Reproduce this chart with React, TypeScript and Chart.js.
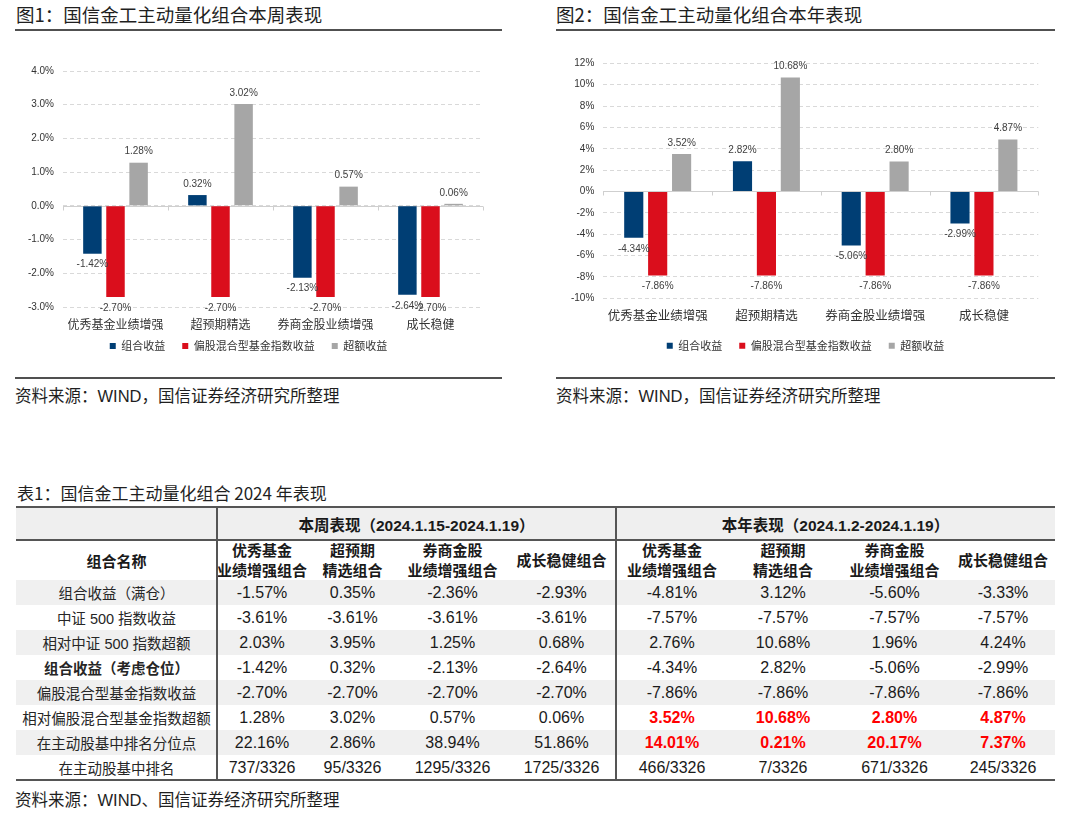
import React, { useEffect, useRef } from 'react';
import { Chart, registerables } from 'chart.js';

Chart.register(...registerables);

// ---------- data ----------
const categories = ['优秀基金业绩增强', '超预期精选', '券商金股业绩增强', '成长稳健'];
const seriesNames = ['组合收益', '偏股混合型基金指数收益', '超额收益'];
const seriesColors = ['#003E74', '#DA0E1C', '#A6A6A6'];

const weekPortfolio = [-1.42, 0.32, -2.13, -2.64];
const weekIndex = [-2.7, -2.7, -2.7, -2.7];
const weekExcess = [1.28, 3.02, 0.57, 0.06];

const yearPortfolio = [-4.34, 2.82, -5.06, -2.99];
const yearIndex = [-7.86, -7.86, -7.86, -7.86];
const yearExcess = [3.52, 10.68, 2.8, 4.87];

const weekAxis = { min: -3, max: 4, step: 1, decimals: 1 };
const yearAxis = { min: -10, max: 12, step: 2, decimals: 0 };

const tableRowLabels = [
  '组合收益（满仓）',
  '中证 500 指数收益',
  '相对中证 500 指数超额',
  '组合收益（考虑仓位）',
  '偏股混合型基金指数收益',
  '相对偏股混合型基金指数超额',
  '在主动股基中排名分位点',
  '在主动股基中排名',
];
const tableColHeads = [
  ['优秀基金', '业绩增强组合'],
  ['超预期', '精选组合'],
  ['券商金股', '业绩增强组合'],
  ['成长稳健组合'],
];
const weekTable = [
  ['-1.57%', '0.35%', '-2.36%', '-2.93%'],
  ['-3.61%', '-3.61%', '-3.61%', '-3.61%'],
  ['2.03%', '3.95%', '1.25%', '0.68%'],
  ['-1.42%', '0.32%', '-2.13%', '-2.64%'],
  ['-2.70%', '-2.70%', '-2.70%', '-2.70%'],
  ['1.28%', '3.02%', '0.57%', '0.06%'],
  ['22.16%', '2.86%', '38.94%', '51.86%'],
  ['737/3326', '95/3326', '1295/3326', '1725/3326'],
];
const yearTable = [
  ['-4.81%', '3.12%', '-5.60%', '-3.33%'],
  ['-7.57%', '-7.57%', '-7.57%', '-7.57%'],
  ['2.76%', '10.68%', '1.96%', '4.24%'],
  ['-4.34%', '2.82%', '-5.06%', '-2.99%'],
  ['-7.86%', '-7.86%', '-7.86%', '-7.86%'],
  ['3.52%', '10.68%', '2.80%', '4.87%'],
  ['14.01%', '0.21%', '20.17%', '7.37%'],
  ['466/3326', '7/3326', '671/3326', '245/3326'],
];
const highlightYearRows = [5, 6];
const boldRows = [3];

// ---------- styling ----------
const FONT = '"Liberation Sans", Arial, "Noto Sans CJK SC", sans-serif';
const CJK = '"Noto Sans CJK SC", "Liberation Sans", sans-serif';
const LEGEND_PAD = 17;
const LEGEND_FONT = 11;

type Axis = { min: number; max: number; step: number; decimals: number };
type Geo = {
  left: number; top: number; width: number; height: number;
  padTop: number; padRight: number; padBottom: number;
  yWidth: number; xHeight: number; xPad: number; catFont: number;
  legendCenter: number; legendY: number;
};

function makePlugin(geo: Geo) {
  return {
    id: 'barExtras',
    afterLayout(chart: any) {
      const lg = chart.legend;
      if (lg) {
        const dx = geo.legendCenter - (lg.left + lg.right) / 2;
        const dy = geo.legendY - (lg.top + LEGEND_PAD + LEGEND_FONT / 2);
        lg.left += dx;
        lg.right += dx;
        lg.top += dy;
        lg.bottom += dy;
        if (lg.legendHitBoxes)
          lg.legendHitBoxes.forEach((b: any) => {
            b.left += dx;
            b.top += dy;
          });
      }
    },
    beforeDatasetsDraw(chart: any) {
      const { ctx, chartArea, scales } = chart;
      const y0 = Math.round(scales.y.getPixelForValue(0)) + 0.5;
      const n = chart.data.labels.length;
      ctx.save();
      ctx.strokeStyle = '#CFCFCF';
      ctx.lineWidth = 1;
      ctx.beginPath();
      ctx.moveTo(chartArea.left, y0);
      ctx.lineTo(chartArea.right, y0);
      for (let i = 0; i <= n; i++) {
        const x = Math.round(chartArea.left + ((chartArea.right - chartArea.left) * i) / n) + 0.5;
        ctx.moveTo(x, y0);
        ctx.lineTo(x, y0 + 4);
      }
      ctx.stroke();
      ctx.restore();
    },
    afterDatasetsDraw(chart: any) {
      const { ctx } = chart;
      ctx.save();
      ctx.font = `10px ${FONT}`;
      ctx.fillStyle = '#404040';
      ctx.textAlign = 'center';
      ctx.textBaseline = 'middle';
      chart.data.datasets.forEach((ds: any, di: number) => {
        const meta = chart.getDatasetMeta(di);
        meta.data.forEach((el: any, i: number) => {
          const v = ds.data[i];
          const y = v >= 0 ? el.y - 11 : el.y + 11;
          ctx.fillText(v.toFixed(2) + '%', el.x, y);
        });
      });
      ctx.restore();
    },
  };
}

function BarChart(props: { series: number[][]; axis: Axis; geo: Geo }) {
  const ref = useRef<HTMLCanvasElement | null>(null);
  const { series, axis, geo } = props;
  useEffect(() => {
    if (!ref.current) return;
    const chart = new Chart(ref.current, {
      type: 'bar',
      data: {
        labels: categories,
        datasets: series.map((d, i) => ({
          label: seriesNames[i],
          data: d,
          backgroundColor: seriesColors[i],
          borderWidth: 0,
          categoryPercentage: 0.66,
          barPercentage: 0.8,
        })),
      },
      options: {
        animation: false,
        responsive: false,
        maintainAspectRatio: false,
        layout: { padding: { top: geo.padTop, right: geo.padRight, bottom: geo.padBottom, left: 0 } },
        plugins: {
          legend: {
            position: 'bottom',
            labels: {
              boxWidth: 6,
              boxHeight: 6,
              padding: LEGEND_PAD,
              color: '#333333',
              font: { size: LEGEND_FONT, family: CJK },
            },
          },
          tooltip: { enabled: false },
        },
        scales: {
          x: {
            grid: { display: false },
            border: { display: false },
            ticks: {
              color: '#333333',
              font: { size: geo.catFont, family: CJK },
              padding: geo.xPad,
              maxRotation: 0,
              autoSkip: false,
            },
            afterFit: (s: any) => {
              s.height = geo.xHeight;
            },
          },
          y: {
            min: axis.min,
            max: axis.max,
            ticks: {
              stepSize: axis.step,
              color: '#333333',
              font: { size: 10, family: FONT },
              padding: 9,
              callback: (v: any) => Number(v).toFixed(axis.decimals) + '%',
            },
            grid: { color: '#D9D9D9', drawTicks: false, lineWidth: 1 },
            border: { display: false, dash: [4, 3] },
            afterFit: (s: any) => {
              s.width = geo.yWidth;
            },
          },
        },
      },
      plugins: [makePlugin(geo)],
    } as any);
    return () => chart.destroy();
  }, []);
  return (
    <canvas
      ref={ref}
      width={geo.width}
      height={geo.height}
      style={{ position: 'absolute', left: geo.left, top: geo.top, width: geo.width, height: geo.height }}
    />
  );
}

// chart1: plot area 63..483 x 71..307 ; chart2: plot area 603..1038 x 63..298
const geo1: Geo = {
  left: 0, top: 40, width: 497, height: 340,
  padTop: 31, padRight: 14, padBottom: 5,
  yWidth: 63, xHeight: 30, xPad: 2, catFont: 12, legendCenter: 248.5, legendY: 306,
};
const geo2: Geo = {
  left: 556, top: 40, width: 499, height: 332,
  padTop: 23.3, padRight: 16.7, padBottom: 5.7,
  yWidth: 47.3, xHeight: 30, xPad: 1, catFont: 12.5, legendCenter: 249.5, legendY: 305.7,
};

// table layout
const colWidths = [201, 90, 91, 109, 109, 112, 110, 113, 104];
const tLeft = 16;
const tTop = 507;
const h1 = 33;
const h2 = 40;
const rowH = 25;
const lineColor = '#555555';

function Table() {
  const xs: number[] = [tLeft];
  colWidths.forEach((w) => xs.push(xs[xs.length - 1] + w));
  const totalW = xs[xs.length - 1] - tLeft;
  const dataTop = tTop + h1 + h2;
  const bottom = dataTop + rowH * tableRowLabels.length;
  const els: any[] = [];
  els.push(<div key="bgh" style={{ position: 'absolute', left: tLeft, top: tTop, width: totalW, height: h1, background: '#EFEFEF' }} />);
  tableRowLabels.forEach((_, r) => {
    if (r % 2 === 0)
      els.push(
        <div key={'bg' + r} style={{ position: 'absolute', left: tLeft, top: dataTop + r * rowH, width: totalW, height: rowH, background: '#F0F0F0' }} />
      );
  });
  const cell = (key: string, x: number, w: number, y: number, h: number, content: any, style: any = {}) => (
    <div
      key={key}
      style={{
        position: 'absolute', left: x, top: y, width: w, height: h,
        display: 'flex', flexDirection: 'column', alignItems: 'center', justifyContent: 'center',
        whiteSpace: 'nowrap', color: '#1A1A1A', ...style,
      }}
    >
      {content}
    </div>
  );
  els.push(cell('hw', xs[1], xs[5] - xs[1], tTop, h1, '本周表现（2024.1.15-2024.1.19）', { fontWeight: 'bold', fontSize: 15.5, fontFamily: FONT }));
  els.push(cell('hy', xs[5], xs[9] - xs[5], tTop, h1, '本年表现（2024.1.2-2024.1.19）', { fontWeight: 'bold', fontSize: 15.5, fontFamily: FONT }));
  els.push(cell('hn', xs[0], colWidths[0], tTop + h1, h2, '组合名称', { fontWeight: 'bold', fontSize: 15, fontFamily: CJK }));
  for (let s = 0; s < 2; s++) {
    tableColHeads.forEach((lines, c) => {
      const ci = 1 + s * 4 + c;
      els.push(
        cell('hc' + s + c, xs[ci], colWidths[ci], tTop + h1, h2,
          lines.map((l, k) => <div key={k} style={{ lineHeight: '20px' }}>{l}</div>),
          { fontWeight: 'bold', fontSize: 15, fontFamily: CJK })
      );
    });
  }
  tableRowLabels.forEach((label, r) => {
    const y = dataTop + r * rowH;
    els.push(
      cell('l' + r, xs[0], colWidths[0], y, rowH, label, {
        fontSize: 14.5, fontFamily: FONT, fontWeight: boldRows.includes(r) ? 'bold' : 'normal', color: '#262626',
      })
    );
    weekTable[r].forEach((v, c) => {
      els.push(cell('w' + r + c, xs[1 + c], colWidths[1 + c], y, rowH, v, { fontSize: 16, fontFamily: FONT }));
    });
    yearTable[r].forEach((v, c) => {
      const hl = highlightYearRows.includes(r);
      els.push(
        cell('y' + r + c, xs[5 + c], colWidths[5 + c], y, rowH, v, {
          fontSize: 16, fontFamily: FONT, color: hl ? '#FF0000' : '#1A1A1A', fontWeight: hl ? 'bold' : 'normal',
        })
      );
    });
  });
  const hLine = (key: string, y: number) => (
    <div key={key} style={{ position: 'absolute', left: tLeft, top: y - 1, width: totalW, height: 2, background: lineColor }} />
  );
  const vLine = (key: string, x: number) => (
    <div key={key} style={{ position: 'absolute', left: x - 1, top: tTop - 1, width: 2, height: bottom - tTop + 1, background: lineColor }} />
  );
  els.push(hLine('t', tTop));
  els.push(hLine('m', tTop + h1));
  els.push(hLine('b', bottom));
  els.push(vLine('v1', xs[1]));
  els.push(vLine('v2', xs[5]));
  return <>{els}</>;
}

const titleStyle: any = { position: 'absolute', fontFamily: CJK, fontSize: 18.5, color: '#1F1F1F', whiteSpace: 'nowrap', lineHeight: '22px' };
const sourceStyle: any = { position: 'absolute', fontFamily: FONT, fontSize: 16.5, color: '#1F1F1F', whiteSpace: 'nowrap', lineHeight: '20px' };
const rule = (key: string, x: number, y: number, w: number) => (
  <div key={key} style={{ position: 'absolute', left: x, top: y - 1, width: w, height: 1.5, background: '#505050' }} />
);

export default function App() {
  return (
    <div style={{ position: 'absolute', left: 0, top: 0, width: 1080, height: 827, background: '#FFFFFF', overflow: 'hidden' }}>
      <div style={{ ...titleStyle, left: 16, top: 3 }}>图1：国信金工主动量化组合本周表现</div>
      <div style={{ ...titleStyle, left: 556, top: 3 }}>图2：国信金工主动量化组合本年表现</div>
      {rule('r1', 15, 30, 487)}
      {rule('r2', 556, 30, 499)}
      <BarChart series={[weekPortfolio, weekIndex, weekExcess]} axis={weekAxis} geo={geo1} />
      <BarChart series={[yearPortfolio, yearIndex, yearExcess]} axis={yearAxis} geo={geo2} />
      {rule('r3', 15, 378, 487)}
      {rule('r4', 556, 378, 499)}
      <div style={{ ...sourceStyle, left: 15, top: 386 }}>资料来源：WIND，国信证券经济研究所整理</div>
      <div style={{ ...sourceStyle, left: 556, top: 386 }}>资料来源：WIND，国信证券经济研究所整理</div>
      <div style={{ ...titleStyle, fontSize: 17, left: 17, top: 482 }}>表1：国信金工主动量化组合 2024 年表现</div>
      <Table />
      <div style={{ ...sourceStyle, left: 15, top: 790 }}>资料来源：WIND、国信证券经济研究所整理</div>
    </div>
  );
}
